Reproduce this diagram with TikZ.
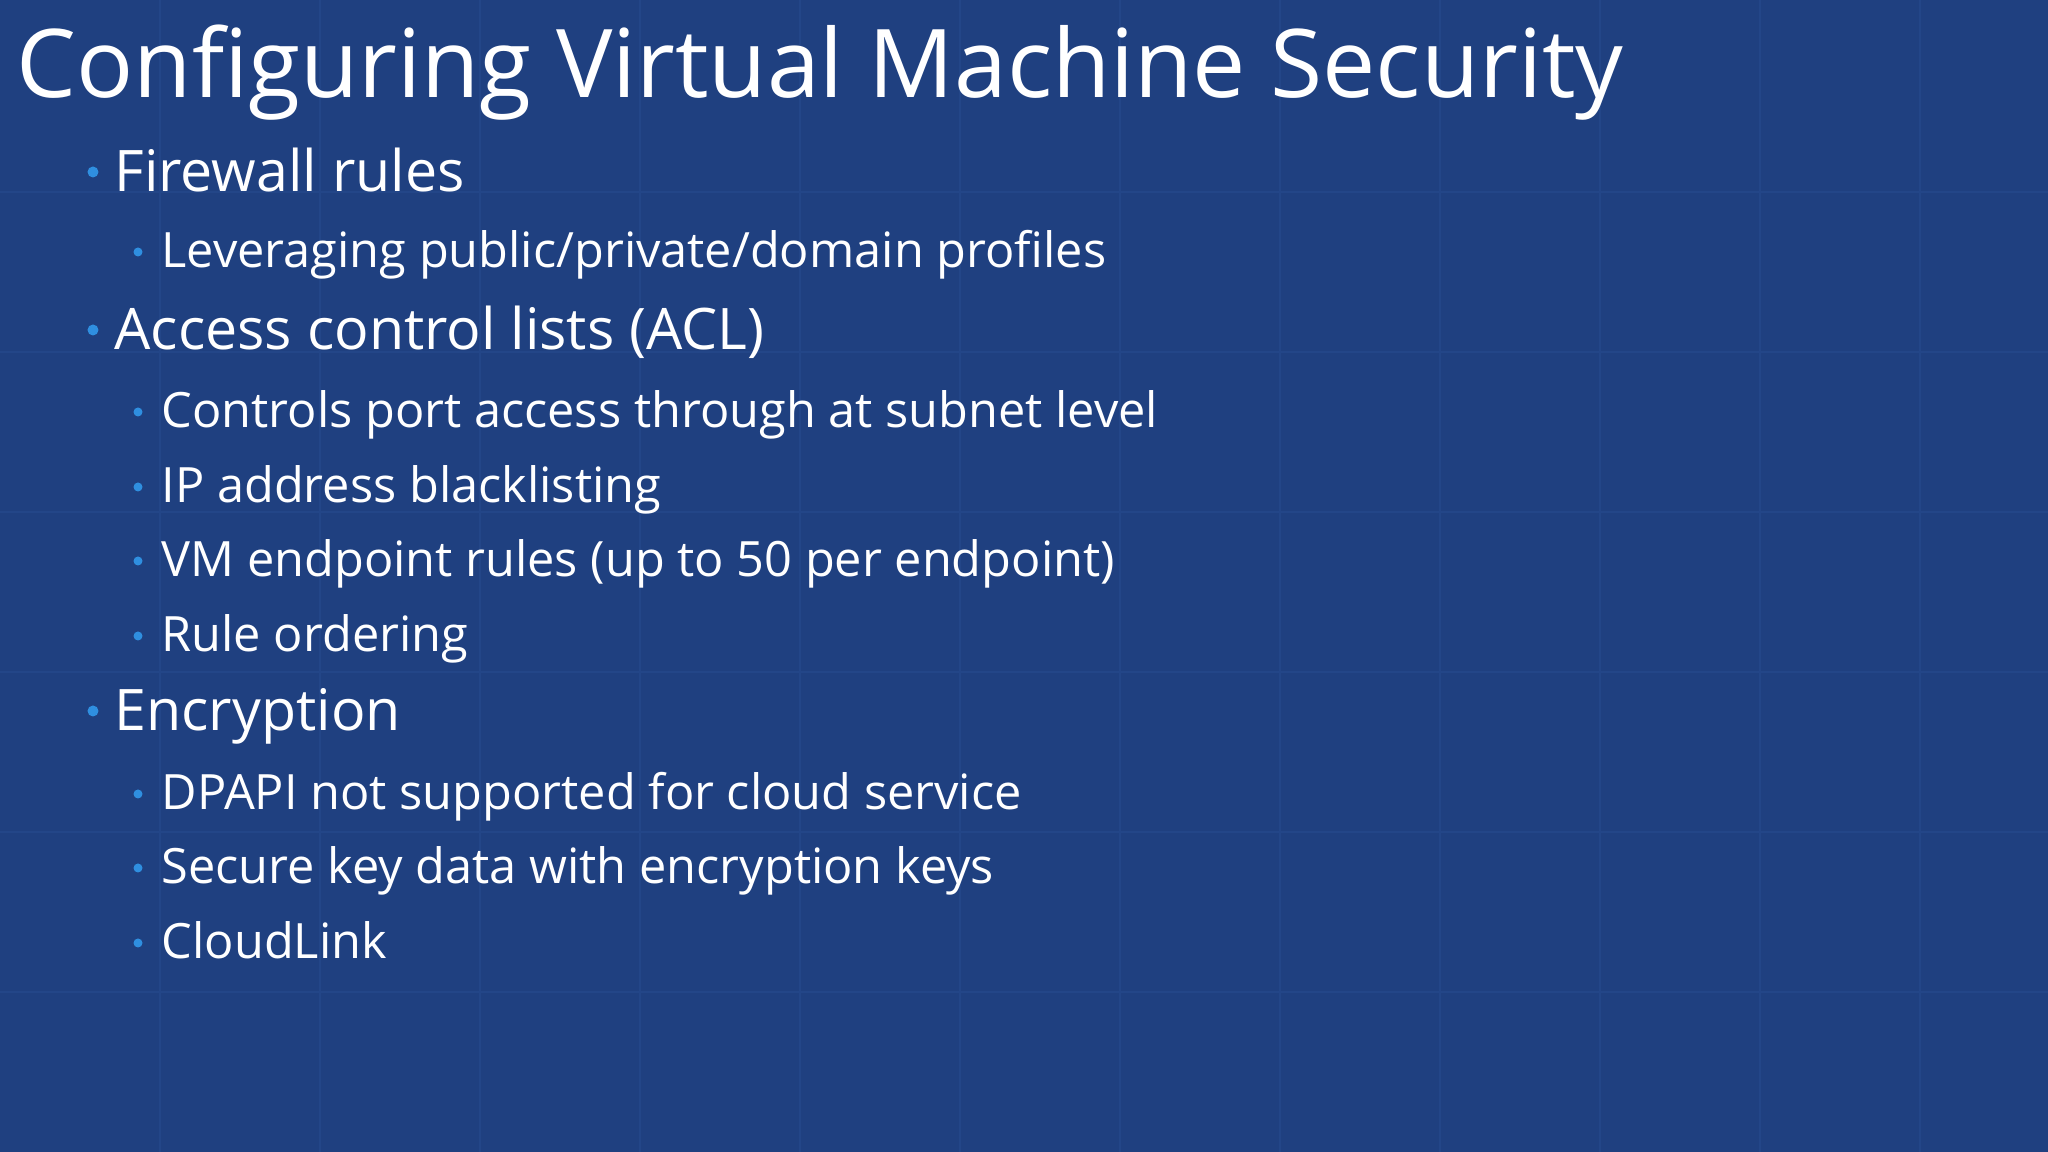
\documentclass[tikz,border=0pt]{standalone}
\usepackage{fontspec}
\setmainfont{Open Sans}
\definecolor{bg}{HTML}{1F4080}
\definecolor{gridc}{HTML}{234688}
\definecolor{bul}{HTML}{2F8FE0}
\tikzset{
 ttl/.style={anchor=base west,inner sep=0,text=white,font=\fontsize{27}{32}\selectfont},
 lone/.style={anchor=base west,inner sep=0,text=white,font=\fontsize{16.3}{20}\selectfont},
 ltwo/.style={anchor=base west,inner sep=0,text=white,font=\fontsize{13.85}{17}\selectfont},
 dot/.style={circle,fill=bul,inner sep=0,minimum size=0.09cm}
}
\begin{document}
\begin{tikzpicture}[x=1cm,y=1cm]
\fill[bg] (0,0) rectangle (20.48,11.52);
\useasboundingbox (0,0) rectangle (20.48,11.52);
\foreach \x in {1.6,3.2,4.8,6.4,8.0,9.6,11.2,12.8,14.4,16.0,17.6,19.2}
  \draw[gridc,line width=0.6pt] (\x,0) -- (\x,11.52);
\foreach \y in {1.6,3.2,4.8,6.4,8.0,9.6}
  \draw[gridc,line width=0.6pt] (0,\y) -- (20.48,\y);
\node[ttl] (t) at (0.16,10.54) {Configuring Virtual Machine Security};
\node[lone] (a) at (1.14,9.60) {Firewall rules};
\node[ltwo] (a1) at (1.61,8.84) {Leveraging public/private/domain profiles};
\node[lone] (b) at (1.14,8.02) {Access control lists (ACL)};
\node[ltwo] (b1) at (1.61,7.24) {Controls port access through at subnet level};
\node[ltwo] (b2) at (1.61,6.49) {IP address blacklisting};
\node[ltwo] (b3) at (1.61,5.75) {VM endpoint rules (up to 50 per endpoint)};
\node[ltwo] (b4) at (1.61,5.00) {Rule ordering};
\node[lone] (c) at (1.14,4.21) {Encryption};
\node[ltwo] (c1) at (1.61,3.42) {DPAPI not supported for cloud service};
\node[ltwo] (c2) at (1.61,2.68) {Secure key data with encryption keys};
\node[ltwo] (c3) at (1.61,1.93) {CloudLink};
\foreach \n in {a,b,c} \node[dot,minimum size=0.11cm] at ([xshift=-0.21cm,yshift=0.2cm]\n.base west) {};
\foreach \n in {a1,b1,b2,b3,b4,c1,c2,c3} \node[dot] at ([xshift=-0.23cm,yshift=0.16cm]\n.base west) {};
\end{tikzpicture}
\end{document}
